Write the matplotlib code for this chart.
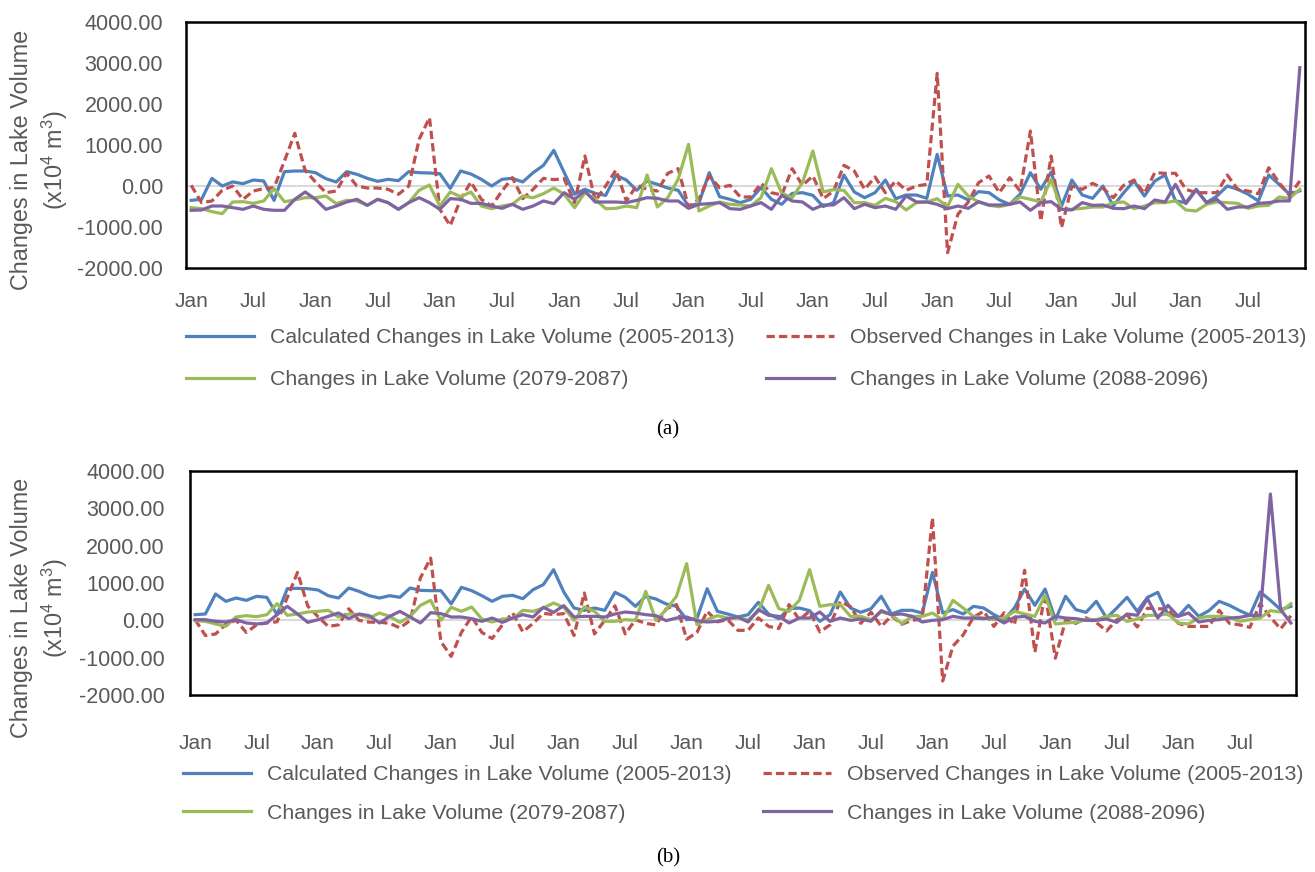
import matplotlib
matplotlib.use("Agg")
import matplotlib.pyplot as plt
import numpy as np

tick_labels = ["Jan", "Jul"] * 9

calc_a = [-350,-325,187,0,100,57,146,122,-350,350,366,366,325,179,98,350,285,187,114,163,130,350,325,317,300,-57,366,293,163,0,163,187,98,325,504,870,
          330,-200,-80,-180,-230,260,146,-105,122,40,-50,-105,-490,-423,325,-260,-325,-406,-325,-40,-325,-447,-180,-163,-228,-500,-406,268,-146,-285,-163,146,-310,-220,-220,-300,772,
          -245,-220,-340,-138,-163,-340,-447,-200,325,-80,340,-490,146,-220,-300,0,-490,-163,122,-245,122,268,-365,-406,-80,-406,-245,0,-80,-200,-365,268,40,-200,-120]
observed = [16,-406,-365,-105,0,-325,-122,-65,-40,610,1285,382,98,-163,-122,309,0,-49,-49,-81,-203,0,1138,1667,-570,-966,-325,98,-325,-488,-122,203,-309,-81,187,155,
            179,-406,732,-365,0,390,-365,16,-81,-122,309,423,-504,-325,244,-40,16,-268,-268,65,-163,-220,423,16,244,-309,-122,504,366,-81,220,-163,122,-105,0,40,2748,
            -1626,-690,-390,81,244,-163,203,-122,1341,-854,732,-1016,0,-81,65,-57,-285,16,146,-179,325,309,309,-81,-163,-163,-163,268,-81,-122,-187,447,81,-228,122]
green_a = [-528,-553,-626,-675,-390,-382,-423,-365,-65,-382,-341,-285,-285,-244,-430,-350,-365,-472,-325,-406,-569,-406,-105,24,-488,-146,-260,-146,-488,-553,-488,-447,-244,-285,-187,-49,
           -203,-528,-163,-325,-553,-545,-488,-528,268,-512,-285,163,1016,-610,-488,-390,-447,-463,-488,-285,423,-179,-285,81,854,-146,-89,-105,-406,-406,-472,-301,-382,-585,-406,-390,-309,
           -504,40,-244,-390,-472,-504,-447,-268,-325,-390,163,-569,-569,-545,-512,-512,-406,-390,-553,-488,-406,-406,-365,-585,-610,-447,-390,-406,-423,-545,-488,-472,-268,-301,-81]
purple_a = [-593,-585,-488,-488,-528,-569,-488,-569,-593,-593,-325,-146,-325,-569,-488,-390,-325,-472,-325,-406,-569,-406,-285,-406,-569,-309,-325,-423,-423,-488,-545,-447,-569,-488,-365,-430,
            -163,-325,-122,-390,-390,-390,-406,-350,-285,-301,-365,-365,-545,-447,-430,-406,-553,-569,-488,-406,-569,-228,-365,-390,-569,-463,-463,-285,-553,-447,-528,-488,-569,-244,-390,-390,-447,
            -553,-488,-545,-382,-463,-463,-447,-390,-593,-406,-382,-569,-585,-406,-472,-463,-545,-553,-488,-553,-341,-390,40,-430,-98,-406,-325,-569,-512,-512,-423,-406,-365,-365,2886]

calc_b = [152,170,705,509,598,536,643,616,152,848,857,848,813,660,598,866,777,660,598,660,616,866,804,795,795,438,884,795,660,509,643,670,580,821,955,1357,
          759,330,268,330,268,750,616,375,643,571,438,375,18,45,848,241,170,89,152,482,170,45,312,330,259,-27,152,759,330,214,312,643,170,268,268,196,1286,
          196,286,170,375,330,152,18,330,839,402,839,18,643,286,214,509,62,330,616,241,616,750,152,107,402,107,259,509,402,259,134,759,536,286,375]
green_b = [-9,-27,-98,-160,89,125,98,152,446,134,170,223,241,268,89,170,152,62,196,107,-54,107,402,536,0,348,241,357,36,-45,36,45,268,241,330,464,
           348,0,357,241,-27,-27,18,0,777,0,286,643,1518,-116,18,125,62,62,18,241,938,312,241,536,1357,375,420,420,107,107,18,223,152,-89,107,107,196,
           18,536,330,107,62,18,62,241,170,107,670,-98,-71,-54,18,18,107,134,-27,36,134,134,170,-71,-98,62,107,107,80,-27,18,62,259,223,446]
purple_b = [18,18,-27,-45,18,-71,-98,-71,152,375,170,-54,18,107,196,45,170,125,-71,107,241,89,-71,205,179,89,89,45,-27,62,-54,62,152,89,348,214,
            393,89,107,107,89,170,223,196,152,125,-9,62,89,-9,-45,-27,45,89,-45,286,134,107,-71,62,62,223,-27,62,0,36,-27,259,152,170,107,-45,0,
            18,107,62,62,45,80,-71,80,107,-27,-71,107,62,45,0,0,36,-54,170,134,580,62,402,107,196,-45,0,18,62,80,134,134,3384,286,-71]

labels = ["Calculated Changes in Lake Volume (2005-2013)",
          "Observed Changes in Lake Volume (2005-2013)",
          "Changes in Lake Volume (2079-2087)",
          "Changes in Lake Volume (2088-2096)"]
colors = ["#4F81BD", "#C0504D", "#9BBB59", "#8064A2"]
yticks = [-2000, -1000, 0, 1000, 2000, 3000, 4000]

FONT = "Liberation Sans"
GRAY = "#595959"
W, H = 1315, 872
fig = plt.figure(figsize=(W / 100, H / 100), dpi=100)
plt.rcParams["mathtext.fontset"] = "custom"
plt.rcParams["mathtext.rm"] = FONT


def panel(rect, series, xpad, ypad, leg_y, leg_x, leg_sp, ylab_y, cap_y, cap):
    ax = fig.add_axes(rect)
    n = len(series[0])
    ax.axhline(0, color="#D9D9D9", lw=1.5, zorder=1)
    handles = []
    for i, (s, c) in enumerate(zip(series, colors)):
        if i == 1:
            h, = ax.plot(np.arange(len(s)), s, color=c, lw=2.3, dashes=(2.6, 1.3), zorder=2 + i)
        else:
            h, = ax.plot(np.arange(len(s)), s, color=c, lw=2.3, zorder=2 + i)
        handles.append(h)
    ax.set_xlim(-0.5, n - 0.5)
    ax.set_ylim(-2000, 4000)
    ax.set_yticks(yticks)
    ax.set_yticklabels([f"{v:.2f}" for v in yticks], fontsize=15.5, color=GRAY, family=FONT)
    ax.set_xticks(np.arange(0, n, 6))
    ax.set_xticklabels(tick_labels, fontsize=15, color=GRAY, family=FONT)
    ax.tick_params(axis="both", length=0)
    ax.tick_params(axis="y", pad=ypad)
    ax.tick_params(axis="x", pad=xpad)
    for sp in ax.spines.values():
        sp.set_linewidth(1.8)
        sp.set_color("black")
    order = [0, 2, 1, 3]
    leg = fig.legend([handles[k] for k in order], [labels[k] for k in order], ncol=2,
                     loc="upper left", bbox_to_anchor=(leg_x / W, 1 - leg_y / H),
                     frameon=False, borderpad=0, borderaxespad=0,
                     handlelength=3.2, handletextpad=0.75, columnspacing=1.5,
                     labelspacing=leg_sp, prop={"family": FONT, "size": 15.3})
    for t in leg.get_texts():
        t.set_color(GRAY)
    fig.text(22 / W, 1 - ylab_y / H, "Changes in Lake Volume", rotation=90,
             ha="center", va="center", fontsize=16.8, color=GRAY, family=FONT)
    fig.text(55 / W, 1 - ylab_y / H, r"(x10$^{4}$ m$^{3}$)", rotation=90,
             ha="center", va="center", fontsize=16.8, color=GRAY, family=FONT)
    fig.text(668 / W, 1 - cap_y / H, cap, ha="center", va="center",
             fontsize=15, color="black", family="Liberation Serif")
    return ax


panel([186 / W, 1 - 268 / H, (1305 - 186) / W, 246 / H],
      [calc_a, observed, green_a, purple_a], xpad=17, ypad=16.5,
      leg_y=328, leg_x=186, leg_sp=1.1, ylab_y=160, cap_y=430, cap="(a)")
panel([190 / W, 1 - 695 / H, (1296 - 190) / W, 224 / H],
      [calc_b, observed, green_b, purple_b], xpad=28, ypad=18,
      leg_y=765, leg_x=183, leg_sp=0.92, ylab_y=608, cap_y=858, cap="(b)")

fig.savefig("out.png", dpi=100)
